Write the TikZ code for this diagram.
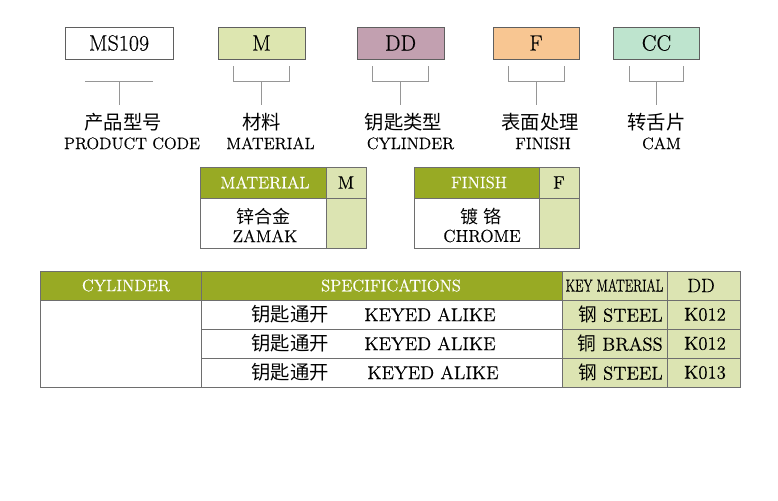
\documentclass[tikz,border=0pt]{standalone}
\usepackage{fontspec}
\usepackage{graphicx}
\usetikzlibrary{calc}
\setmainfont{Latin Modern Roman}[FakeBold=0.4]
\newfontfamily\cjk{Noto Sans CJK SC}

\definecolor{hdrgreen}{RGB}{152,170,36}
\definecolor{cellgreen}{RGB}{220,228,178}
\definecolor{boxM}{RGB}{221,230,176}
\definecolor{boxDD}{RGB}{194,160,176}
\definecolor{boxF}{RGB}{248,198,146}
\definecolor{boxCC}{RGB}{190,228,206}
\definecolor{boxline}{RGB}{95,95,95}
\definecolor{brgray}{RGB}{150,150,150}
\definecolor{tabline}{RGB}{110,110,110}

\begin{document}
\begin{tikzpicture}[x=0.75pt,y=-0.75pt,
    code/.style={draw=boxline,line width=0.6pt,minimum height=24pt,inner sep=0pt,
        font=\fontsize{16.5}{18}\selectfont},
    bracket/.style={draw=brgray,line width=0.6pt},
    cn/.style={inner sep=0pt,font=\fontsize{14.5}{16}\selectfont\cjk},
    en/.style={inner sep=0pt,font=\fontsize{12.4}{14}\selectfont},
    grid/.style={draw=tabline,line width=0.7pt},
    head/.style={inner sep=0pt,text=white,font=\fontsize{12.5}{14}\selectfont},
    cell/.style={inner sep=0pt,font=\fontsize{14}{16}\selectfont}]

    \useasboundingbox (0,0) rectangle (778,500);

    % code boxes
    \node[code,minimum width=81pt] (ms) at (119,43) {MS109};
    \node[code,fill=boxM,minimum width=65.25pt] (m) at (261.5,43) {M};
    \node[code,fill=boxDD,minimum width=65.25pt] (dd) at (400.5,43) {DD};
    \node[code,fill=boxF,minimum width=64.5pt] (f) at (536,43) {F};
    \node[code,fill=boxCC,minimum width=64pt] (cc) at (656.5,43) {CC};

    % brackets
    \draw[bracket] ($(ms.south)+(-34,22)$) -- ++(68,0);
    \draw[bracket] ($(ms.south)+(0,22)$) -- ++(0,24);
    \draw[bracket] ($(m.south)+(-28,7)$) -- ++(0,15) -- ++(56,0) -- ++(0,-15);
    \draw[bracket] ($(m.south)+(0,22)$) -- ++(0,24);
    \draw[bracket] ($(dd.south)+(-28,7)$) -- ++(0,15) -- ++(56,0) -- ++(0,-15);
    \draw[bracket] ($(dd.south)+(0,22)$) -- ++(0,24);
    \draw[bracket] ($(f.south)+(-28,7)$) -- ++(0,15) -- ++(56,0) -- ++(0,-15);
    \draw[bracket] ($(f.south)+(0,22)$) -- ++(0,24);
    \draw[bracket] ($(cc.south)+(-27,7)$) -- ++(0,15) -- ++(54,0) -- ++(0,-15);
    \draw[bracket] ($(cc.south)+(0,22)$) -- ++(0,24);

    % labels
    \node[cn] (mscn) at ($(ms.south)+(4,63)$) {产品型号};
    \node[en] (msen) at ($(ms.south)+(13,84)$) {PRODUCT CODE};
    \node[cn] (mcn) at ($(m.south)+(0,63)$) {材料};
    \node[en] (men) at ($(m.south)+(9,84)$) {MATERIAL};
    \node[cn] (ddcn) at ($(dd.south)+(3,63)$) {钥匙类型};
    \node[en] (dden) at ($(dd.south)+(10,84)$) {CYLINDER};
    \node[cn] (fcn) at ($(f.south)+(4,63)$) {表面处理};
    \node[en] (fen) at ($(f.south)+(7,84)$) {FINISH};
    \node[cn] (cccn) at ($(cc.south)+(0,63)$) {转舌片};
    \node[en] (ccen) at ($(cc.south)+(5,84)$) {CAM};

    % material table
    \fill[hdrgreen] (200,167) rectangle (326,198);
    \fill[cellgreen] (326,167) rectangle (366,248);
    \draw[grid] (200,167) rectangle (366,248);
    \draw[grid] (200,198) -- (366,198);
    \draw[grid] (326,167) -- (326,248);
    \node[head] (math) at (265,182.5) {MATERIAL};
    \node[cell,font=\fontsize{13.5}{16}\selectfont] (matm) at (346,182.5) {M};
    \node[cn,font=\fontsize{13.5}{16}\selectfont\cjk] (matcn) at (263,217) {锌合金};
    \node[cell,font=\fontsize{13}{16}\selectfont] (maten) at (265,236) {ZAMAK};

    % finish table
    \fill[hdrgreen] (414,167) rectangle (539,198);
    \fill[cellgreen] (539,167) rectangle (579,248);
    \draw[grid] (414,167) rectangle (579,248);
    \draw[grid] (414,198) -- (579,198);
    \draw[grid] (539,167) -- (539,248);
    \node[head] (finh) at (479,182.5) {FINISH};
    \node[cell,font=\fontsize{13.5}{16}\selectfont] (finf) at (559,182.5) {F};
    \node[cn,font=\fontsize{13.5}{16}\selectfont\cjk] (fincn) at (481,217) {镀\ 铬};
    \node[cell,font=\fontsize{13}{16}\selectfont] (finen) at (482,236) {CHROME};

    % cylinder table
    \fill[hdrgreen] (40,271) rectangle (562,300);
    \fill[cellgreen] (562,271) rectangle (740,387);
    \draw[grid] (40,271) rectangle (740,387);
    \draw[grid] (40,300) -- (740,300);
    \draw[grid] (201,329) -- (740,329);
    \draw[grid] (201,358) -- (740,358);
    \foreach \x in {201,562,667}
        \draw[grid] (\x,271) -- (\x,387);

    \node[head] (cylh) at (126,285.5) {CYLINDER};
    \node[head] (spech) at (391,285.5) {SPECIFICATIONS};
    \node[cell,font=\fontsize{13}{16}\selectfont] (keyh) at (614.5,285.5) {\scalebox{0.72}[1]{KEY MATERIAL}};
    \node[cell,font=\fontsize{14.5}{16}\selectfont] (ddh) at (701,285.5) {DD};

    \node[cn] (rowacn) at (290,314.5) {钥匙通开};
    \node[cell] (rowaen) at (430,314.5) {KEYED ALIKE};
    \node[cell,anchor=east] (rowamat) at (663,314.5) {{\cjk 钢} STEEL};
    \node[cell] (rowakey) at (705,314.5) {K012};

    \node[cn] (rowbcn) at (290,343.5) {钥匙通开};
    \node[cell] (rowben) at (430,343.5) {KEYED ALIKE};
    \node[cell,anchor=east] (rowbmat) at (663,343.5) {{\cjk 铜} BRASS};
    \node[cell] (rowbkey) at (705,343.5) {K012};

    \node[cn] (rowccn) at (290,372.5) {钥匙通开};
    \node[cell] (rowcen) at (433,372.5) {KEYED ALIKE};
    \node[cell,anchor=east] (rowcmat) at (663,372.5) {{\cjk 钢} STEEL};
    \node[cell] (rowckey) at (705,372.5) {K013};

\end{tikzpicture}
\end{document}
